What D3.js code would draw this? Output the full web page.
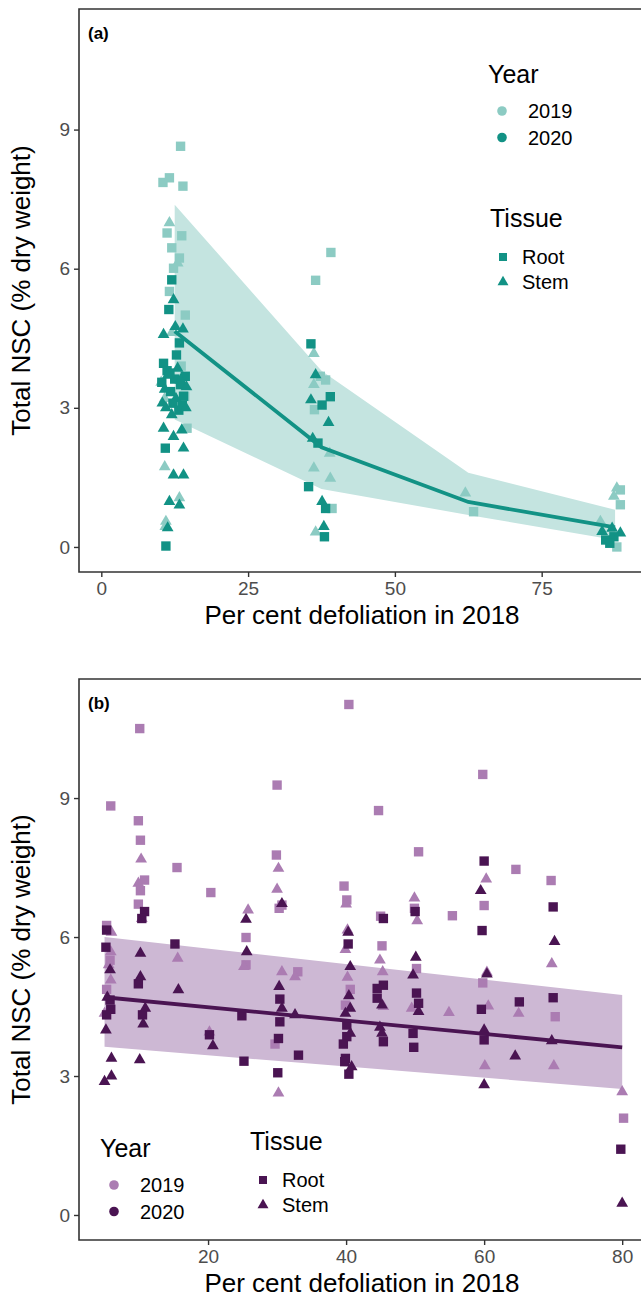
<!DOCTYPE html>
<html><head><meta charset="utf-8">
<script src="https://cdn.jsdelivr.net/npm/d3@7"></script>
<style>body{margin:0;background:#fff;} text{font-family:"Liberation Sans",Arial,sans-serif;}</style>
</head><body>
<svg id="chart" width="641" height="1306"></svg>
<script>
// ---------- Panel (a) data ----------
const aXTicks = [0, 25, 50, 75];
const aYTicks = [0, 3, 6, 9];
const aRoot2019 = [[13.5,8.64],[10.5,7.86],[11.6,7.96],[13.9,7.78],[11.2,6.77],[13.7,6.71],[12.0,6.45],[13.3,6.23],[12.3,6.01],[11.6,5.51],[14.3,5.0],[14.6,2.56],[14.2,3.25],[13.6,3.9],
  [36.5,5.75],[39.1,6.35],[37.3,3.68],[38.2,3.6],[36.3,2.96],[39.3,0.83],[63.4,0.76],[88.4,1.23],[88.4,0.91],[87.8,0.0]];
const aStem2019 = [[11.6,6.99],[13.0,6.12],[12.0,4.62],[10.2,3.55],[10.8,3.2],[10.8,1.73],[13.3,1.06],[11.0,0.55],[10.9,0.44],
  [36.2,4.17],[36.2,3.5],[38.9,2.02],[36.2,1.70],[39.0,1.48],[36.5,0.32],[62.0,1.16],[87.8,1.27],[87.3,1.09],[85.0,0.55]];
const aRoot2020 = [[12.0,5.76],[11.5,5.12],[13.3,4.40],[12.8,4.14],[10.6,3.96],[14.3,3.68],[11.2,3.80],[12.5,3.62],[13.5,3.50],[11.8,3.35],[14.0,3.25],[12.2,3.10],[13.2,2.95],[10.9,2.13],[11.0,0.02],[10.3,3.55],[13.8,3.05],[11.7,3.75],
  [35.7,4.38],[39.0,3.24],[37.6,3.06],[36.9,2.24],[35.3,1.30],[38.2,0.83],[38.0,0.22],[85.9,0.15],[87.3,0.22],[86.6,0.08]];
const aStem2020 = [[12.3,5.33],[12.6,4.75],[13.9,4.70],[10.6,4.58],[11.3,3.70],[13.0,3.85],[10.8,3.40],[12.7,3.20],[14.4,3.00],[11.0,3.00],[12.0,2.85],[10.6,2.56],[12.3,2.38],[13.7,2.52],[14.0,2.13],[12.3,1.55],[14.0,1.55],[11.6,0.98],[13.3,0.90],[11.3,0.41],[13.5,3.6],[10.4,3.1],[14.5,3.45],
  [36.5,3.71],[35.7,3.17],[38.7,2.68],[36.0,2.34],[37.6,0.98],[37.9,0.44],[85.3,0.33],[88.4,0.30],[87.0,0.40]];
const aFitX = [12.5, 37.5, 62.5, 87.5];
const aFitY = [4.65, 2.15, 0.97, 0.42];
const aFitLo = [2.75, 1.25, 0.69, 0.15];
const aFitHi = [7.38, 3.8, 1.6, 0.8];

// ---------- Panel (b) data ----------
const bXTicks = [20, 40, 60, 80];
const bYTicks = [0, 3, 6, 9];
const bRoot2019 = [[5.9,8.83],[5.3,6.25],[5.8,5.5],[5.3,4.87],[10.1,10.5],[9.9,8.51],[10.2,8.09],[10.8,7.23],[10.2,7.0],[9.9,6.71],[15.5,7.5],[20.4,6.96],[25.5,5.99],[25.5,5.40],
  [30.0,9.28],[29.9,7.77],[30.3,6.62],[30.7,6.69],[29.7,3.69],[33.0,5.25],[40.4,11.02],[39.7,7.10],[40.1,6.80],[40.6,4.87],[39.9,4.53],
  [44.7,8.73],[45.2,5.81],[45.0,6.45],[50.5,7.84],[49.9,6.62],[50.2,5.32],[55.4,6.46],[59.8,9.51],[60.0,6.68],[59.8,5.01],[64.6,7.46],[69.7,7.22],[70.3,4.28],[80.2,2.09]];
const bStem2019 = [[6.0,6.1],[5.9,5.68],[5.6,5.4],[5.9,5.07],[5.0,4.35],[10.3,7.68],[9.9,7.16],[10.4,6.4],[15.6,5.54],[20.2,3.95],[25.8,6.58],[25.2,5.36],
  [30.2,7.48],[30.0,7.03],[30.7,5.25],[30.2,2.63],[32.6,5.14],[40.0,6.71],[40.2,6.15],[39.9,5.73],[40.2,5.13],[44.9,5.50],[45.3,5.25],[45.4,4.5],
  [49.9,6.84],[50.3,6.35],[49.5,4.46],[54.9,4.37],[60.3,7.25],[60.4,5.24],[60.6,4.51],[60.1,3.22],[65.0,4.35],[69.8,5.42],[70.1,3.22],[80.0,2.66]];
const bRoot2020 = [[5.3,6.15],[5.2,5.78],[5.8,4.64],[5.9,4.44],[5.3,4.32],[10.8,6.55],[10.4,6.40],[9.9,4.99],[10.5,4.32],[15.2,5.85],[20.2,3.89],[24.9,4.30],[25.2,3.32],
  [30.4,4.66],[30.4,4.17],[30.2,3.81],[30.1,3.07],[33.1,3.45],[40.3,5.85],[40.1,4.10],[40.1,3.85],[39.6,3.69],[39.9,3.38],[39.8,3.31],[40.4,3.04],
  [45.4,6.40],[45.4,4.96],[44.5,4.89],[44.5,4.68],[45.4,3.74],[50.0,6.55],[50.2,4.79],[50.5,4.57],[49.7,3.92],[49.8,3.62],
  [60.0,7.64],[59.7,6.14],[59.6,4.44],[60.0,3.78],[65.1,4.60],[70.0,6.65],[70.0,4.69],[79.8,1.42]];
const bStem2020 = [[5.8,5.29],[5.4,4.70],[5.2,3.99],[6.0,3.38],[6.0,3.0],[5.0,2.88],[10.2,5.65],[10.2,5.14],[10.9,4.46],[10.6,4.12],[10.1,3.35],[15.7,4.86],[20.7,3.65],[25.5,6.38],[25.6,5.68],
  [30.7,6.72],[30.3,4.93],[30.7,4.46],[32.6,4.32],[40.3,6.10],[40.6,5.36],[40.4,4.73],[40.6,4.46],[39.9,4.35],[40.6,3.92],[40.8,3.20],
  [45.2,4.53],[45.2,3.92],[44.9,4.05],[50.1,5.56],[49.7,5.18],[50.5,4.39],[59.5,7.0],[60.4,5.2],[60.0,3.99],[60.0,2.81],[64.5,3.43],[70.2,5.90],[69.8,3.76],[80.0,0.25]];
const bFitX = [5, 80];
const bFitY = [4.70, 3.62];
const bFitLo = [3.63, 2.72];
const bFitHi = [6.0, 4.75];

const yearLabels = ["2019", "2020"];
const tissueLabels = ["Root", "Stem"];
const xTitle = "Per cent defoliation in 2018";
const yTitle = "Total NSC (% dry weight)";

const svg = d3.select("#chart");
const sqSym = d3.symbol().type(d3.symbolSquare).size(88);
const triSym = d3.symbol().type(d3.symbolTriangle).size(60);

function panel(o) {
  const g = svg.append("g");
  const x = d3.scaleLinear().domain(o.xDom).range([o.left, o.right]);
  const y = d3.scaleLinear().domain(o.yDom).range([o.bottom, o.top]);
  const clipId = "clip" + o.label;
  svg.append("clipPath").attr("id", clipId).append("rect")
    .attr("x", o.left).attr("y", o.top).attr("width", o.right - o.left).attr("height", o.bottom - o.top);
  const plot = g.append("g").attr("clip-path", `url(#${clipId})`);

  const rib = o.fitX.map((v, i) => ({x: v, lo: o.fitLo[i], hi: o.fitHi[i], m: o.fitY[i]}));
  plot.append("path").datum(rib)
    .attr("d", d3.area().x(d => x(d.x)).y0(d => y(d.lo)).y1(d => y(d.hi)))
    .attr("fill", o.ribbon);

  const layers = [
    [o.r19, sqSym, o.light], [o.s19, triSym, o.light],
    [o.r20, sqSym, o.dark], [o.s20, triSym, o.dark]
  ];
  layers.forEach(([data, sym, col]) => {
    plot.selectAll(null).data(data).enter().append("path")
      .attr("d", sym)
      .attr("transform", d => `translate(${x(d[0])},${y(d[1])})`)
      .attr("fill", col);
  });

  plot.append("path").datum(rib)
    .attr("d", d3.line().x(d => x(d.x)).y(d => y(d.m)))
    .attr("fill", "none").attr("stroke", o.lineCol).attr("stroke-width", 3.8);

  g.append("path")
    .attr("d", `M${o.right + 5},${o.top}H${o.left}V${o.bottom}H${o.right + 5}`)
    .attr("fill", "none").attr("stroke", "#333").attr("stroke-width", 1.6);

  const xa = g.append("g").attr("transform", `translate(0,${o.bottom})`)
    .call(d3.axisBottom(x).tickValues(o.xTicks).tickSize(5).tickPadding(5));
  const ya = g.append("g").attr("transform", `translate(${o.left},0)`)
    .call(d3.axisLeft(y).tickValues(o.yTicks).tickSize(5).tickPadding(4));
  [xa, ya].forEach(a => {
    a.select(".domain").remove();
    a.selectAll(".tick line").attr("stroke", "#333").attr("stroke-width", 1.4);
    a.selectAll(".tick text").attr("fill", "#4d4d4d").style("font-size", "19px")
      .style("font-family", '"Liberation Sans", Arial, sans-serif');
  });

  g.append("text").attr("x", (o.left + 645) / 2).attr("y", o.bottom + 52)
    .attr("text-anchor", "middle").style("font-size", "26px").attr("fill", "#000").text(xTitle);
  g.append("text").attr("transform", `translate(30,${(o.top + o.bottom) / 2}) rotate(-90)`)
    .attr("text-anchor", "middle").style("font-size", "26px").attr("fill", "#000").text(yTitle);
  g.append("text").attr("x", o.left + 9).attr("y", o.top + 30)
    .style("font-size", "17px").style("font-weight", "bold").text(`(${o.label})`);

  const L = o.leg;
  g.append("text").attr("x", L.yx).attr("y", L.yy).style("font-size", "25px").text("Year");
  yearLabels.forEach((t, i) => {
    const cy = L.yy + 28 + i * 26.5;
    g.append("circle").attr("cx", L.yx + 14).attr("cy", cy).attr("r", 4.8).attr("fill", i ? o.dark : o.light);
    g.append("text").attr("x", L.yx + 40).attr("y", cy).attr("dy", "0.36em").style("font-size", "20px").text(t);
  });
  g.append("text").attr("x", L.tx).attr("y", L.ty).style("font-size", "25px").text("Tissue");
  tissueLabels.forEach((t, i) => {
    const cy = L.ty + 30 + i * 25;
    g.append("path").attr("d", i ? d3.symbol().type(d3.symbolTriangle).size(52) : d3.symbol().type(d3.symbolSquare).size(64))
      .attr("transform", `translate(${L.tx + 13},${cy})`).attr("fill", o.dark);
    g.append("text").attr("x", L.tx + 32).attr("y", cy).attr("dy", "0.36em").style("font-size", "20px").text(t);
  });
}

panel({
  label: "a", left: 79, right: 655, top: 9, bottom: 572,
  xDom: [-3.8, 94.3], yDom: [-0.54, 11.6], xTicks: aXTicks, yTicks: aYTicks,
  r19: aRoot2019, s19: aStem2019, r20: aRoot2020, s20: aStem2020,
  fitX: aFitX, fitY: aFitY, fitLo: aFitLo, fitHi: aFitHi,
  light: "#8ccbc3", dark: "#129285", ribbon: "#c4e4e0", lineCol: "#129285",
  leg: {yx: 488, yy: 83, tx: 490, ty: 227}
});
panel({
  label: "b", left: 79, right: 656, top: 679, bottom: 1240,
  xDom: [1.3, 84.9], yDom: [-0.54, 11.57], xTicks: bXTicks, yTicks: bYTicks,
  r19: bRoot2019, s19: bStem2019, r20: bRoot2020, s20: bStem2020,
  fitX: bFitX, fitY: bFitY, fitLo: bFitLo, fitHi: bFitHi,
  light: "#ab7cb2", dark: "#4a1452", ribbon: "#cdb8d4", lineCol: "#4a1452",
  leg: {yx: 100, yy: 1157, tx: 250, ty: 1150}
});
</script></body></html>
